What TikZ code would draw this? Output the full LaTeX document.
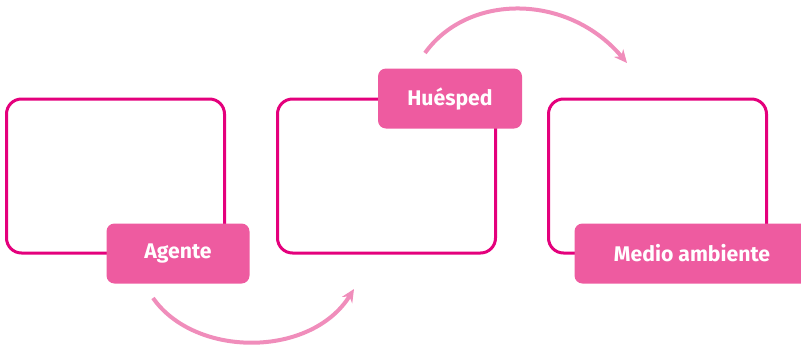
\documentclass[tikz,border=0pt]{standalone}
\usepackage{fontspec}
\setmainfont{Fira Sans}
\usetikzlibrary{arrows.meta, positioning}
\definecolor{boxmagenta}{HTML}{E4007C}
\definecolor{tagpink}{HTML}{EE5BA0}
\definecolor{arrowpink}{HTML}{F08DBB}

\begin{document}
\begin{tikzpicture}[
   x=1pt, y=-1pt,
   node distance=50pt,
   panel/.style={rectangle, rounded corners=15pt, draw=boxmagenta, line width=3pt,
                 minimum width=218pt, minimum height=154pt, inner sep=0pt},
   tag/.style={rectangle, rounded corners=8pt, fill=tagpink, text=white,
               font=\fontsize{21.2}{24}\selectfont\bfseries,
               minimum height=60pt, inner sep=0pt, outer sep=0pt},
   flow/.style={-{Stealth[length=13pt, width=12pt]}, line width=4pt, arrowpink}]
 \useasboundingbox (0,0) rectangle (801,349);
 \clip (0,0) rectangle (801,349);
 % three empty panels
 \node[panel] at (115.5,176) (host1) {};
 \node[panel, right=of host1] (host2) {};
 \node[panel, right=of host2] (host3) {};
 % labels on the panel corners
 \node[tag, minimum width=143pt] at ([xshift=-48pt, yshift=1pt]host1.south east) (agente) {Agente};
 \node[tag, minimum width=144pt] at ([xshift=-47pt, yshift=-1pt]host2.north east) (huesped) {Huésped};
 \node[tag, minimum width=235pt] at ([xshift=-76pt, yshift=1pt]host3.south east) (medio) {Medio ambiente};
 % curved arrows
 \coordinate (a1) at (153,298);
 \coordinate (a2) at (354,289);
 \coordinate (b1) at (425,53);
 \coordinate (b2) at (627,63);
 \draw[flow] (a1) .. controls (195,358) and (311,358) .. (a2);
 \draw[flow] (b1) .. controls (468,-7) and (568,-7) .. (b2);
\end{tikzpicture}
\end{document}
